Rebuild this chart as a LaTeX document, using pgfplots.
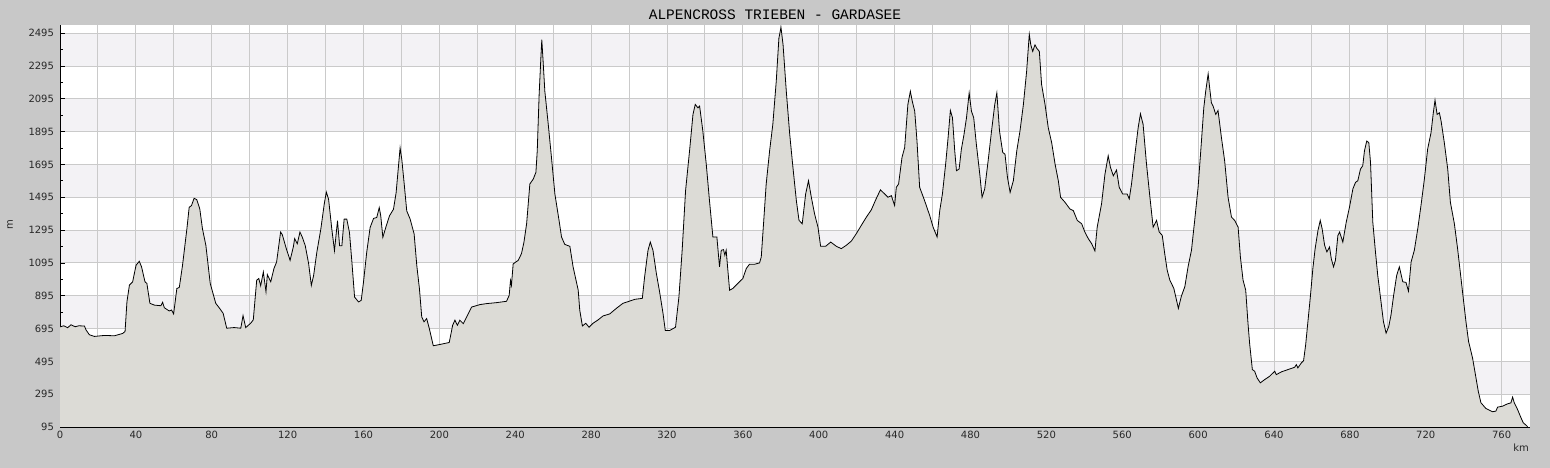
\documentclass[border=0pt]{standalone}
\usepackage{fontspec}
\setmainfont{DejaVu Sans}
\newfontfamily\titlefont{Liberation Mono}
\usepackage{pgfplots}
\pgfplotsset{compat=1.18}
\definecolor{pagebg}{RGB}{200,200,200}
\definecolor{bandcol}{RGB}{243,242,245}
\definecolor{gridcol}{RGB}{202,202,202}
\definecolor{areacol}{RGB}{220,219,214}
\definecolor{labelcol}{RGB}{40,40,40}
\pgfdeclarelayer{page}
\pgfplotsset{
  layers/profile/.define layer set={page,axis background,axis grid,main,axis ticks,axis lines,axis tick labels,axis descriptions,axis foreground}{},
}
\begin{document}
\begin{tikzpicture}
\begin{axis}[
  set layers=profile,
  at={(60pt,41pt)}, anchor=south west,
  scale only axis, width=1470pt, height=402pt,
  xmin=0, xmax=775, ymin=95, ymax=2545,
  enlargelimits=false,
  axis x line*=bottom, axis y line*=left,
  axis line style={black, line width=0.8pt, -},
  xtick={0,20,...,760},
  xticklabels={0,,40,,80,,120,,160,,200,,240,,280,,320,,360,,400,,440,,480,,520,,560,,600,,640,,680,,720,,760},
  ytick={95,295,...,2495},
  minor x tick num=1, minor y tick num=1,
  tick align=inside,
  major tick length=5pt, minor tick length=3pt,
  tick style={black, line width=0.8pt},
  grid=major, major grid style={gridcol, line width=0.9pt},
  /pgf/number format/assume math mode=true,
  /pgf/number format/set thousands separator={},
  tick label style={font=\fontsize{10}{12}\selectfont, text=labelcol},
  yticklabel style={xshift=-2.5pt},
  xticklabel style={yshift=-0.5pt},
]
\begin{pgfonlayer}{axis background}
  \fill[white] (axis cs:0,95) rectangle (axis cs:775,2545);
  \fill[bandcol] (axis cs:0,295) rectangle (axis cs:775,495);
  \fill[bandcol] (axis cs:0,695) rectangle (axis cs:775,895);
  \fill[bandcol] (axis cs:0,1095) rectangle (axis cs:775,1295);
  \fill[bandcol] (axis cs:0,1495) rectangle (axis cs:775,1695);
  \fill[bandcol] (axis cs:0,1895) rectangle (axis cs:775,2095);
  \fill[bandcol] (axis cs:0,2295) rectangle (axis cs:775,2495);
\end{pgfonlayer}
\pgfplotstableread{
km m
0 705
2 712
4 700
5.8 718
8 706
10 712
12.9 710
13.7 687
15.5 657
18.1 647
23.4 653
28.7 651
33 665
34.3 677
35.3 859
36.6 960
38.3 980
40.1 1081
41.8 1105
43 1071
44.8 980
45.8 970
47.4 849
49.7 838
53.2 834
54.1 855
55 822
57.6 802
58.8 808
59.9 784
61.6 939
62.9 946
64.6 1081
66.9 1303
68.1 1434
69.3 1444
70.7 1489
72.1 1481
73.7 1424
75.1 1303
76.9 1202
79.2 970
82.1 849
83.9 822
86 788
87.9 697
91.8 701
95.3 697
96.5 774
97.9 701
100.5 727
101.9 748
103.7 990
104.8 1000
105.8 956
107.2 1040
108.6 919
109.3 1024
111.1 980
112.8 1061
114.2 1101
116.3 1283
117.2 1267
119.3 1182
121.3 1111
123 1192
123.7 1243
125.1 1212
126.5 1283
127.7 1253
129.3 1200
131.1 1089
132.5 958
133.7 1018
135.4 1160
137.5 1301
139.3 1453
140.4 1527
141.6 1483
143.3 1301
144.7 1170
146.3 1352
147.4 1200
148.6 1200
149.8 1362
151.2 1362
152.6 1281
153.9 1099
155.3 887
157.4 857
158.8 867
160 978
161.7 1160
163.5 1311
165.3 1366
167 1372
168.3 1432
169.1 1382
170.2 1251
171.9 1317
173.7 1382
175.8 1422
177.2 1523
179.3 1796
180.2 1725
181.4 1584
182.8 1412
184.6 1362
186.7 1271
188.1 1079
189.5 937
190.7 766
191.9 736
193.3 756
194.7 695
196.8 590
200.3 598
205.2 610
207 715
208.2 746
209.5 715
210.8 746
212.6 725
214.4 766
217 826
221.4 841
224.9 847
230.2 853
235.4 861
236.8 897
237.5 988
238 958
238.9 1089
241.6 1111
243.3 1152
244.6 1222
246 1334
247.7 1576
249.5 1606
250.9 1647
251.6 1778
252.6 2121
253.5 2343
254 2455
254.7 2323
255.6 2142
257.4 1940
259.1 1738
260.9 1515
263.1 1354
264.4 1253
266.1 1208
268.8 1196
270.5 1071
273.2 929
274 808
275.4 711
277.2 727
278.9 703
281 727
283.7 748
286.3 772
289.8 784
293.3 818
296.8 849
299.5 859
303 873
307 879
308.2 1010
310 1172
311.2 1222
312.6 1172
314.4 1031
316.1 919
317.9 788
319.1 683
321.4 683
324.5 703
326.3 889
328 1172
329.8 1536
331.9 1778
333.7 2000
334.9 2061
336.3 2040
337.2 2051
338.9 1899
340.7 1697
342.4 1475
344.2 1253
346.3 1253
347.7 1071
348.6 1172
349.8 1176
350.5 1142
351.2 1172
353 929
354.7 939
358.2 980
360 1000
361.8 1061
363.5 1087
366.2 1087
368.8 1095
369.7 1131
370.9 1334
372.3 1576
374.1 1778
375.8 1940
377.6 2202
379 2465
380.1 2530
381.2 2424
382.9 2141
384.7 1879
386.4 1677
388.2 1475
389.6 1354
391.3 1334
393.1 1515
394.6 1596
396.1 1495
397.8 1394
399.6 1313
401 1196
403.6 1196
406.3 1222
409.3 1196
411.9 1182
414.5 1202
417.2 1228
419.8 1273
422.4 1323
425.1 1374
427.7 1418
430 1479
432.5 1540
434.8 1515
436.5 1495
438.3 1505
440 1445
440.9 1556
442.1 1576
443.9 1738
445.3 1798
447 2061
448.3 2141
449.3 2081
450.6 2020
451.8 1838
453.2 1556
455.8 1475
458.5 1384
460.3 1313
462.4 1253
463.8 1414
465.2 1515
466.9 1697
468.2 1859
469.4 2024
470.5 1980
471.7 1778
472.6 1657
474 1667
475.2 1788
476.6 1879
477.9 1980
479.3 2131
480.5 2020
481.7 1980
483.1 1818
484.9 1636
486.1 1495
487.5 1546
489.3 1717
491.1 1899
492.8 2061
493.9 2131
495.3 1899
497 1768
498.2 1758
499.5 1616
500.9 1525
502.6 1596
504.4 1778
506.1 1899
507.9 2061
509.6 2263
511 2489
511.8 2424
512.8 2384
514 2424
514.9 2404
516.3 2384
517.5 2182
519.3 2061
521 1919
522.8 1828
524.6 1697
526.3 1596
527.5 1495
529.8 1465
532.4 1424
534.2 1414
536.3 1354
538.6 1334
540.3 1283
542.1 1243
543.9 1212
545.6 1168
546.8 1313
549.1 1455
550.9 1636
552.6 1748
553.8 1677
555.3 1626
557 1661
558.4 1556
560.2 1515
562.6 1515
563.7 1485
564.9 1576
566.7 1758
568.4 1919
569.6 2004
571 1940
572.8 1697
574.6 1495
576.3 1313
578.1 1354
579.5 1283
581.1 1263
582.4 1152
583.7 1051
585.1 990
587.2 940
588.6 869
589.6 818
591.2 893
593 950
594.7 1071
596.5 1172
598.2 1354
600 1556
601.4 1778
603 2040
604 2141
605.3 2247
606.1 2162
607 2071
607.9 2051
609.3 2000
610.5 2024
612.3 1859
614 1717
615.8 1495
617.6 1374
619.3 1354
621.1 1313
622.3 1131
623.7 990
625.1 929
626.3 727
627.2 600
628.6 445
629.8 435
631.1 394
632.8 364
635.1 384
637.7 404
640.4 435
641.2 414
643.9 431
647.4 445
650.9 459
651.8 475
652.6 455
654.4 485
655.6 499
656.7 596
657.9 738
659.1 879
660.5 1061
661.7 1182
663.2 1293
664.4 1354
665.4 1303
666.7 1202
667.9 1162
669.3 1192
670.2 1121
671.4 1071
672.4 1111
673.7 1263
674.6 1283
676.3 1222
678.1 1344
679.8 1434
681.6 1546
683 1586
684.2 1596
685.6 1667
686.8 1687
687.7 1778
688.9 1838
690 1828
690.9 1707
692.1 1344
693.5 1162
694.7 1020
696.1 889
697.7 738
699.1 667
700.5 707
701.7 778
703.1 899
704.7 1020
706.1 1071
707.9 980
709.6 976
710.9 923
712.3 1101
714 1172
715.8 1303
717.5 1445
719.3 1606
721 1788
722.8 1889
724 2010
724.9 2087
726 2000
727.2 2010
728.1 1960
729.8 1828
731.6 1667
733 1465
735.1 1334
736.8 1182
738.2 1041
739.8 879
741.2 738
742.6 616
744.7 515
746.5 394
747.7 313
749.1 243
751.7 208
755.2 188
757 192
757.9 216
760.5 222
763.1 236
764.9 242
765.8 277
766.7 242
768.4 202
770.2 152
771.4 121
772.8 107
773.7 97
}\profile
\addplot[fill=areacol, draw=none] table[x=km, y=m] {\profile} \closedcycle;
\addplot[black, line width=0.8pt] table[x=km, y=m] {\profile};
\end{axis}
\begin{pgfonlayer}{page}
  \fill[pagebg] (0,0) rectangle (1550pt,468pt);
\end{pgfonlayer}
\node[font=\titlefont\fontsize{14.5}{16}\selectfont, text=black] at (775pt,453pt) {ALPENCROSS TRIEBEN - GARDASEE};
\node[font=\fontsize{10}{12}\selectfont, text=labelcol, rotate=90] at (10pt,243pt) {m};
\node[font=\fontsize{10}{12}\selectfont, text=labelcol] at (1521pt,20pt) {km};
\pgfresetboundingbox
\path (0,0) rectangle (1550pt,468pt);
\end{tikzpicture}
\end{document}
